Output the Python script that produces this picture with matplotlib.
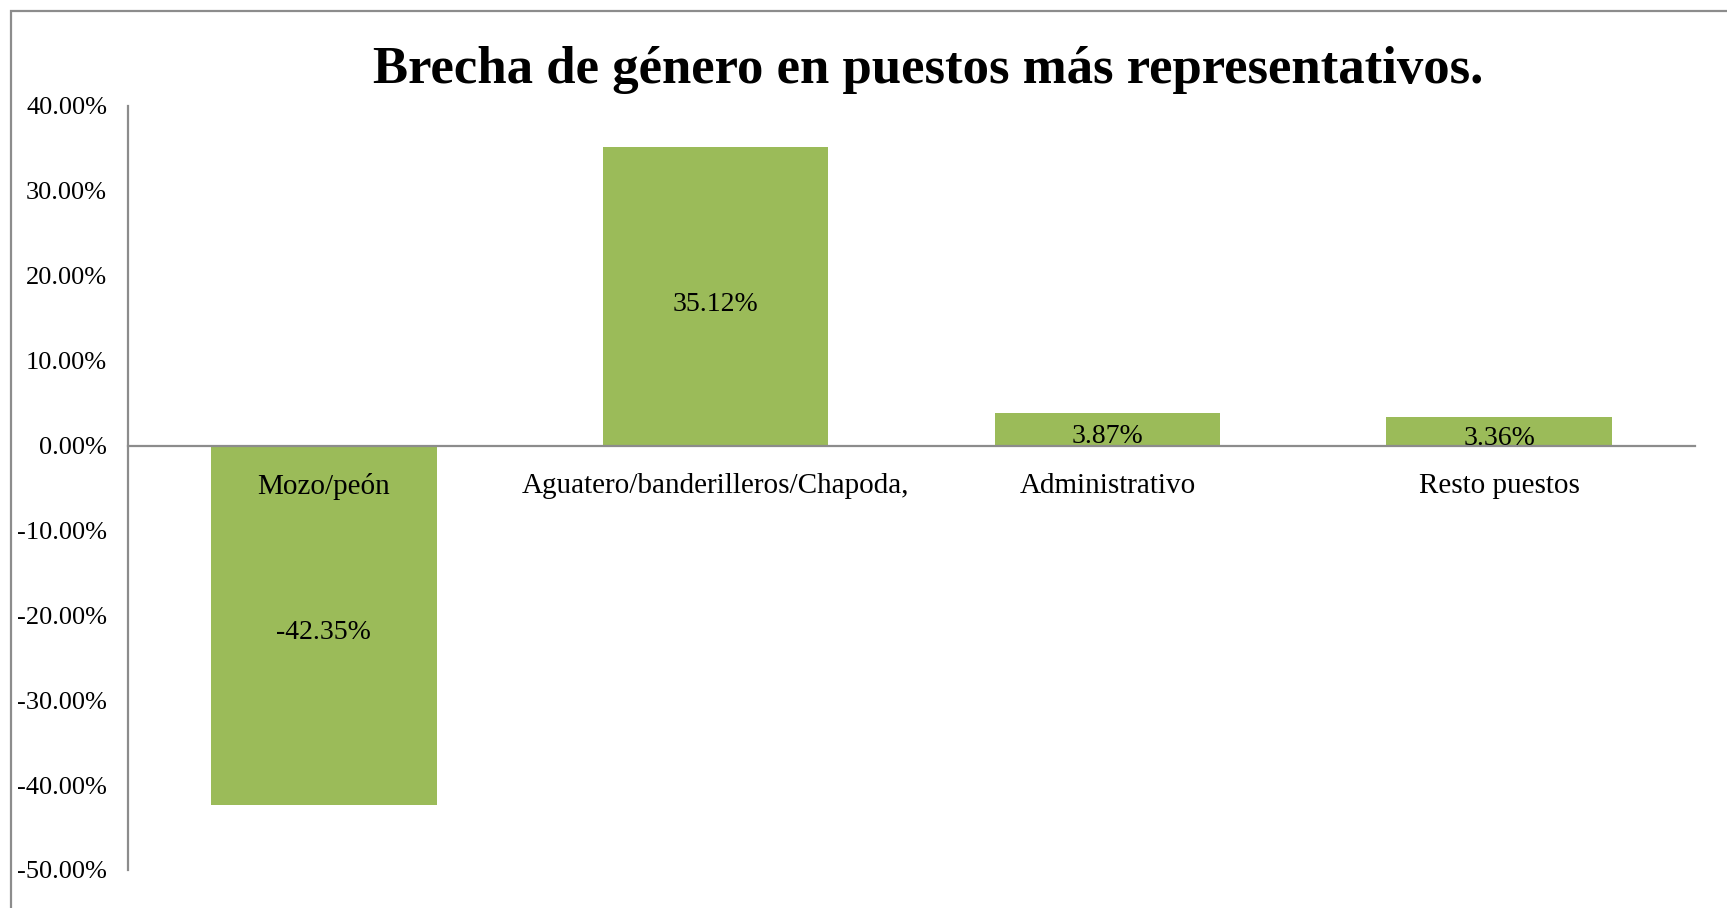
import matplotlib.pyplot as plt
from matplotlib.patches import Rectangle
from matplotlib.ticker import FuncFormatter

# datos del gráfico
puestos = ["Mozo/peón", "Aguatero/banderilleros/Chapoda,", "Administrativo", "Resto puestos"]
brecha = [-42.35, 35.12, 3.87, 3.36]
ticks_y = [40, 30, 20, 10, 0, -10, -20, -30, -40, -50]

plt.rcParams['font.family'] = ['Liberation Serif', 'DejaVu Serif']

fig = plt.figure(figsize=(17.27, 9.08), dpi=100)
ax = fig.add_axes([128/1727, 38/908, (1695-128)/1727, (802-38)/908])

# marco exterior gris
fig.patches.append(Rectangle((11/1727, -0.05), 1.2, (908-11)/908 + 0.05,
                             transform=fig.transFigure, fill=False,
                             edgecolor='#8c8c8c', linewidth=1.6))

x = range(len(puestos))
barras = ax.bar(x, brecha, width=0.575, color='#9BBB59')

# etiquetas de valor centradas en cada barra (un poco más abajo, como en Excel)
for b, v in zip(barras, brecha):
    ax.annotate("%.2f%%" % v, (b.get_x() + b.get_width()/2, v/2),
                xytext=(0, -5.5), textcoords='offset points',
                ha='center', va='center', fontsize=20)

ax.set_xlim(-0.5, len(puestos) - 0.5)
ax.set_ylim(-50, 40)
ax.set_yticks(ticks_y)
ax.yaxis.set_major_formatter(FuncFormatter(lambda v, p: "%.2f%%" % v))
ax.set_xticks(list(x))
ax.set_xticklabels(puestos)

for s in ['top', 'right']:
    ax.spines[s].set_visible(False)
ax.spines['bottom'].set_position(('data', 0))
for s in ['left', 'bottom']:
    ax.spines[s].set_color('#8c8c8c')
    ax.spines[s].set_linewidth(1.6)

ax.tick_params(axis='both', length=0)
ax.tick_params(axis='y', pad=15, labelsize=19)
ax.tick_params(axis='x', pad=20, labelsize=21)

fig.text(928/1727, 1 - 70/908, "Brecha de género en puestos más representativos.",
         ha='center', va='center', fontsize=38, fontweight='bold')

fig.savefig("out.png", dpi=100)
